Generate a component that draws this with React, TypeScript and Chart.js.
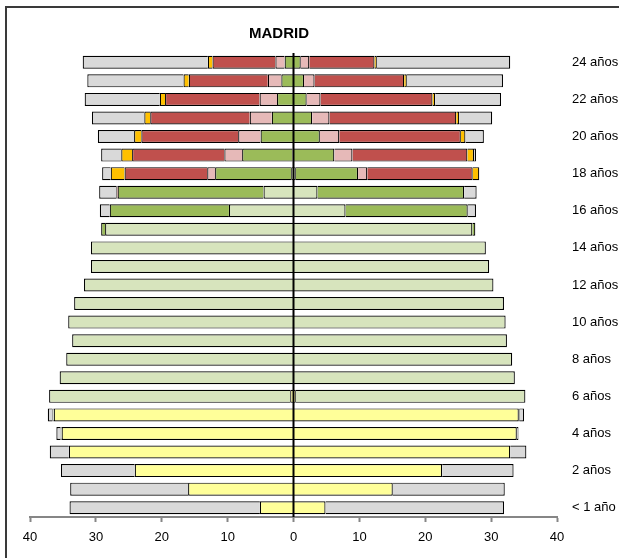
import { useEffect, useRef } from "react";
import { Chart, registerables } from "chart.js";

Chart.register(...registerables);

// Age categories (index 0 = bottom row)
const ageLabels = [
  "< 1 año", "1 año", "2 años", "3 años", "4 años", "5 años", "6 años", "7 años",
  "8 años", "9 años", "10 años", "11 años", "12 años", "13 años", "14 años", "15 años",
  "16 años", "17 años", "18 años", "19 años", "20 años", "21 años", "22 años", "23 años", "24 años",
];

const chartTitle = "MADRID";

// Left side (magnitudes, drawn to the left of 0)
const leftInfantil = [5.1, 16.0, 24.1, 34.1, 35.2, 36.4, 0.5, 0, 0, 0, 0, 0, 0, 0, 0, 0, 0, 0, 0, 0, 0, 0, 0, 0, 0];
const leftObligatoria = [0, 0, 0, 0, 0.15, 0.2, 36.6, 35.5, 34.5, 33.6, 34.2, 33.3, 31.8, 30.75, 30.75, 28.6, 9.8, 4.55, 0.35, 0.15, 0, 0, 0, 0, 0];
const leftPostObligatoria = [0, 0, 0, 0, 0, 0, 0, 0, 0, 0, 0, 0, 0, 0, 0, 0.6, 18.1, 22.15, 11.55, 7.65, 5.0, 3.3, 2.5, 1.85, 1.35];
const leftFpSuperior = [0, 0, 0, 0, 0, 0, 0, 0, 0, 0, 0, 0, 0, 0, 0, 0, 0, 0, 1.2, 2.7, 3.4, 3.35, 2.65, 2.05, 1.4];
const leftUniversidad = [0, 0, 0, 0, 0, 0, 0, 0, 0, 0, 0, 0, 0, 0, 0, 0, 0, 0.2, 12.55, 14.0, 14.7, 15.1, 14.35, 12.0, 9.55];
const leftOtros = [0, 0, 0, 0, 0, 0, 0, 0, 0, 0, 0, 0, 0, 0, 0, 0, 0, 0, 2.1, 1.65, 1.1, 0.9, 0.8, 0.8, 0.7];
const leftNoEscolarizados = [28.9, 17.9, 11.2, 2.9, 0.65, 0.7, 0, 0, 0, 0, 0, 0, 0, 0, 0, 0, 1.5, 2.6, 1.3, 3.05, 5.5, 7.95, 11.4, 14.6, 19.0];

// Right side
const rightInfantil = [4.86, 15.07, 22.56, 32.9, 33.9, 34.2, 0.35, 0, 0, 0, 0, 0, 0, 0, 0, 0, 0, 0, 0, 0, 0, 0, 0, 0, 0];
const rightObligatoria = [0, 0, 0, 0, 0, 0.15, 34.85, 33.6, 33.2, 32.4, 32.2, 31.95, 30.35, 29.7, 29.2, 27.15, 7.9, 3.64, 0.35, 0, 0, 0, 0, 0, 0];
const rightPostObligatoria = [0, 0, 0, 0, 0, 0, 0, 0, 0, 0, 0, 0, 0, 0, 0, 0.45, 18.55, 22.26, 9.45, 6.2, 4.0, 2.83, 2.0, 1.6, 1.1];
const rightFpSuperior = [0, 0, 0, 0, 0, 0, 0, 0, 0, 0, 0, 0, 0, 0, 0, 0, 0, 0, 1.4, 2.75, 2.95, 2.63, 2.1, 1.6, 1.3];
const rightUniversidad = [0, 0, 0, 0, 0, 0, 0, 0, 0, 0, 0, 0, 0, 0, 0, 0, 0, 0, 16.0, 17.45, 18.45, 19.25, 17.0, 13.6, 9.9];
const rightOtros = [0, 0, 0, 0, 0, 0, 0, 0, 0, 0, 0, 0, 0, 0, 0, 0, 0, 0, 1.0, 1.0, 0.7, 0.45, 0.4, 0.4, 0.35];
const rightNoEscolarizados = [27.1, 17.0, 10.85, 2.45, 0.25, 0.65, 0, 0, 0, 0, 0, 0, 0, 0, 0, 0, 1.25, 1.9, 0, 0.3, 2.8, 5.0, 10.0, 14.6, 20.25];

const FONT = "Arial, 'Liberation Sans', sans-serif";

const series = [
  { name: "Infantil", color: "#FFFF99", left: leftInfantil, right: rightInfantil },
  { name: "Obligatoria", color: "#D7E4BD", left: leftObligatoria, right: rightObligatoria },
  { name: "Postobligatoria", color: "#9BBB59", left: leftPostObligatoria, right: rightPostObligatoria },
  { name: "FP superior", color: "#E6B9B8", left: leftFpSuperior, right: rightFpSuperior },
  { name: "Universidad", color: "#C0504D", left: leftUniversidad, right: rightUniversidad },
  { name: "Otros", color: "#FFC000", left: leftOtros, right: rightOtros },
  { name: "No escolarizados", color: "#D9D9D9", left: leftNoEscolarizados, right: rightNoEscolarizados },
];

const centerLinePlugin = {
  id: "centerLine",
  afterDatasetsDraw(chart: any) {
    const { ctx, chartArea } = chart;
    const x = chart.scales.x.getPixelForValue(0);
    ctx.save();
    ctx.strokeStyle = "#000";
    ctx.lineWidth = 2;
    ctx.beginPath();
    ctx.moveTo(x, chartArea.top);
    ctx.lineTo(x, chartArea.bottom);
    ctx.stroke();
    ctx.restore();
  },
};

const titlePlugin = {
  id: "madridTitle",
  afterDraw(chart: any) {
    const { ctx } = chart;
    ctx.save();
    ctx.font = `bold 15px ${FONT}`;
    ctx.fillStyle = "#000";
    ctx.textAlign = "center";
    ctx.textBaseline = "alphabetic";
    ctx.fillText(chartTitle, 279, 38);
    ctx.restore();
  },
};

export default function App() {
  const canvasRef = useRef<HTMLCanvasElement | null>(null);

  useEffect(() => {
    if (!canvasRef.current) return;
    const datasets: any[] = [];
    series.forEach((s) => {
      const common = {
        backgroundColor: s.color,
        borderColor: "#000",
        borderWidth: 1.2,
        stack: "pyr",
        barPercentage: 0.7,
        categoryPercentage: 1.0,
      };
      datasets.push({ ...common, label: s.name + " (izq.)", data: s.left.map((v) => -v) });
      datasets.push({ ...common, label: s.name + " (der.)", data: s.right.map((v) => v) });
    });

    const chart = new Chart(canvasRef.current, {
      type: "bar",
      data: { labels: ageLabels, datasets },
      options: {
        indexAxis: "y",
        animation: false,
        responsive: false,
        maintainAspectRatio: false,
        layout: { padding: { top: 53, left: 30, right: 0, bottom: 0 } },
        plugins: {
          legend: { display: false },
          tooltip: { enabled: false },
          title: { display: false },
        },
        scales: {
          x: {
            stacked: true,
            min: -40,
            max: 40,
            ticks: {
              stepSize: 10,
              maxRotation: 0,
              padding: 8,
              color: "#000",
              font: { size: 13, family: FONT },
              callback: (v: any) => String(Math.abs(Number(v))),
            },
            grid: {
              drawOnChartArea: false,
              drawTicks: true,
              tickLength: 5,
              tickColor: "#868686",
              tickWidth: 2,
            },
            border: { display: true, color: "#868686", width: 2 },
            afterFit: (s: any) => {
              s.height = 41;
            },
          },
          y: {
            stacked: true,
            position: "right",
            reverse: true,
            grid: { display: false, drawTicks: false },
            border: { display: false },
            ticks: {
              autoSkip: false,
              padding: 15,
              color: "#000",
              font: { size: 13, family: FONT },
              callback: (_v: any, i: number) => (i % 2 === 0 ? ageLabels[i] : ""),
            },
            afterFit: (s: any) => {
              s.width = 62;
            },
          },
        },
      } as any,
      plugins: [centerLinePlugin, titlePlugin],
    });
    return () => chart.destroy();
  }, []);

  return (
    <div style={{ position: "fixed", left: 0, top: 0, width: 619, height: 558, overflow: "hidden", background: "#fff" }}>
      <div
        style={{
          position: "absolute",
          left: 5,
          top: 6,
          width: 640,
          height: 580,
          borderLeft: "2px solid #3a3a3a",
          borderTop: "2px solid #3a3a3a",
        }}
      />
      <canvas
        ref={canvasRef}
        width={619}
        height={558}
        style={{ position: "absolute", left: 0, top: 0, width: 619, height: 558 }}
      />
    </div>
  );
}
